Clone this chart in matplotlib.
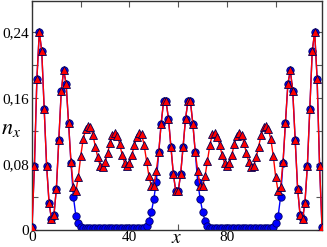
import numpy as np
import matplotlib
matplotlib.use("Agg")
import matplotlib.pyplot as plt
from matplotlib.ticker import FixedLocator, FixedFormatter, MultipleLocator

x = list(range(120))

n_red = [
    0.004, 0.078, 0.183, 0.240, 0.217, 0.147, 0.078, 0.033, 0.013, 0.018,
    0.050, 0.109, 0.168, 0.194, 0.177, 0.130, 0.082, 0.052, 0.047, 0.064,
    0.090, 0.110, 0.122, 0.126, 0.125, 0.115, 0.101, 0.088, 0.078, 0.076,
    0.082, 0.093, 0.105, 0.115, 0.118, 0.114, 0.104, 0.091, 0.081, 0.077,
    0.081, 0.091, 0.103, 0.113, 0.118, 0.116, 0.103, 0.084, 0.065, 0.053,
    0.053, 0.072, 0.094, 0.129, 0.156, 0.156, 0.135, 0.101, 0.068, 0.047,
    0.047, 0.068, 0.101, 0.135, 0.156, 0.156, 0.129, 0.094, 0.072, 0.053,
    0.053, 0.065, 0.084, 0.103, 0.116, 0.118, 0.113, 0.103, 0.091, 0.081,
    0.077, 0.081, 0.091, 0.104, 0.114, 0.118, 0.115, 0.105, 0.093, 0.082,
    0.076, 0.078, 0.088, 0.101, 0.115, 0.125, 0.126, 0.122, 0.110, 0.090,
    0.064, 0.047, 0.052, 0.082, 0.130, 0.177, 0.194, 0.168, 0.109, 0.050,
    0.018, 0.013, 0.033, 0.078, 0.147, 0.217, 0.240, 0.183, 0.078, 0.004,
]

n_blue = [
    0.004, 0.078, 0.183, 0.240, 0.217, 0.147, 0.078, 0.033, 0.013, 0.018,
    0.050, 0.109, 0.168, 0.194, 0.177, 0.130, 0.081, 0.040, 0.017, 0.008,
    0.004, 0.003, 0.002, 0.002, 0.002, 0.002, 0.002, 0.002, 0.002, 0.002,
    0.002, 0.002, 0.002, 0.002, 0.002, 0.002, 0.002, 0.002, 0.002, 0.002,
    0.002, 0.002, 0.002, 0.002, 0.002, 0.003, 0.003, 0.005, 0.011, 0.022,
    0.038, 0.058, 0.094, 0.129, 0.156, 0.156, 0.135, 0.101, 0.068, 0.047,
    0.047, 0.068, 0.101, 0.135, 0.156, 0.156, 0.129, 0.094, 0.058, 0.038,
    0.022, 0.011, 0.005, 0.003, 0.003, 0.002, 0.002, 0.002, 0.002, 0.002,
    0.002, 0.002, 0.002, 0.002, 0.002, 0.002, 0.002, 0.002, 0.002, 0.002,
    0.002, 0.002, 0.002, 0.002, 0.002, 0.002, 0.002, 0.002, 0.003, 0.004,
    0.008, 0.017, 0.040, 0.081, 0.130, 0.177, 0.194, 0.168, 0.109, 0.050,
    0.018, 0.013, 0.033, 0.078, 0.147, 0.217, 0.240, 0.183, 0.078, 0.004,
]

ytick_vals = [0, 0.08, 0.16, 0.24]
ytick_labels = ["0", "0,08", "0,16", "0,24"]
xtick_vals = [0, 40, 80]
xtick_labels = ["0", "40", "80"]

plt.rcParams['font.family'] = ['Liberation Serif', 'DejaVu Serif']
plt.rcParams['mathtext.fontset'] = 'stix'

fig = plt.figure(figsize=(3.27, 2.47), dpi=100)
ax = fig.add_axes([32/327, 1 - 230/247, 290/327, 229/247])

ax.plot(x, n_blue, '-', color='#0000ff', lw=1.0, marker='o', ms=5.3,
        mfc='#0000ff', mec='#000066', mew=0.6, zorder=2)
ax.plot(x, n_red, '-', color='#ff0000', lw=1.0, marker='^', ms=5.8,
        mfc='#ff0000', mec='#000055', mew=0.6, zorder=3)

ax.set_xlim(0, 119)
ax.set_ylim(0, 0.2776)

ax.xaxis.set_major_locator(FixedLocator(xtick_vals))
ax.xaxis.set_major_formatter(FixedFormatter(xtick_labels))
ax.xaxis.set_minor_locator(MultipleLocator(20))
ax.yaxis.set_major_locator(FixedLocator(ytick_vals))
ax.yaxis.set_major_formatter(FixedFormatter(ytick_labels))
ax.yaxis.set_minor_locator(MultipleLocator(0.04))

ax.tick_params(which='both', direction='in', top=True, right=True,
               color='#555555', width=0.8)
ax.tick_params(which='major', length=4, labelsize=11)
ax.tick_params(which='minor', length=4)
ax.tick_params(axis='x', pad=1.0)
ax.tick_params(axis='y', pad=2)

for s in ax.spines.values():
    s.set_color('#333333')
    s.set_linewidth(1.0)

ax.set_xlabel(r'$x$', fontsize=14, va='center')
ax.xaxis.set_label_coords(0.5, -0.036)
ax.set_ylabel(r'$n_x$', fontsize=16, rotation=0, ha='center', va='center')
ax.yaxis.set_label_coords(-0.072, 0.44)

fig.savefig('out.png', dpi=100)
